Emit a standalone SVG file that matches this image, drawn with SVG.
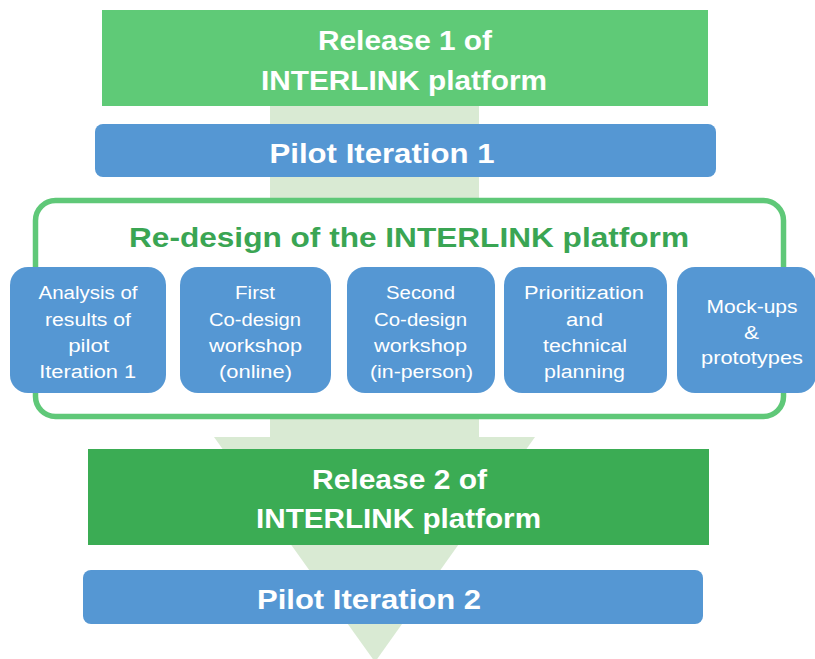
<svg xmlns="http://www.w3.org/2000/svg" width="815" height="659" viewBox="0 0 815 659">
<style>
.big{font-family:"Liberation Sans",Arial,sans-serif;font-weight:bold;font-size:27px;fill:#ffffff;text-anchor:middle}
.title{font-family:"Liberation Sans",Arial,sans-serif;font-weight:bold;font-size:28px;fill:#3aa553;text-anchor:middle}
.sm{font-family:"Liberation Sans",Arial,sans-serif;font-size:18px;fill:#ffffff;text-anchor:middle}
.blue{fill:#5597d3}
.step{fill:#5597d3}
</style>
<rect width="815" height="659" fill="#ffffff"/>
<g id="flow-arrow">
<rect x="270" y="10" width="209" height="428" fill="#d9ead3"/>
<polygon points="214,437 535,437 375,662" fill="#d9ead3"/>
</g>
<g id="release1">
<rect x="102" y="10" width="606" height="96" fill="#5fca77"/>
<text class="big" x="405" y="50" textLength="174" lengthAdjust="spacingAndGlyphs">Release 1 of</text>
<text class="big" x="404" y="90" textLength="286" lengthAdjust="spacingAndGlyphs">INTERLINK platform</text>
</g>
<g id="pilot1">
<rect class="blue" x="95" y="124" width="621" height="53" rx="8"/>
<text class="big" x="382" y="163" textLength="225" lengthAdjust="spacingAndGlyphs">Pilot Iteration 1</text>
</g>
<g id="redesign">
<rect x="35.5" y="200.5" width="748" height="216" rx="20" fill="#ffffff" stroke="#5fc878" stroke-width="5.5"/>
<text class="title" x="409" y="247" textLength="560" lengthAdjust="spacingAndGlyphs">Re-design of the INTERLINK platform</text>
</g>
<g id="step1">
<rect class="step" x="10" y="267" width="156" height="126" rx="18"/>
<text class="sm" x="88" y="299" textLength="99" lengthAdjust="spacingAndGlyphs">Analysis of</text>
<text class="sm" x="88" y="325.7" textLength="86" lengthAdjust="spacingAndGlyphs">results of</text>
<text class="sm" x="88.7" y="351.7" textLength="41" lengthAdjust="spacingAndGlyphs">pilot</text>
<text class="sm" x="87.7" y="377.7" textLength="97" lengthAdjust="spacingAndGlyphs">Iteration 1</text>
</g>
<g id="step2">
<rect class="step" x="180" y="267" width="151" height="126" rx="18"/>
<text class="sm" x="255" y="299" textLength="40" lengthAdjust="spacingAndGlyphs">First</text>
<text class="sm" x="255" y="325.7" textLength="92" lengthAdjust="spacingAndGlyphs">Co-design</text>
<text class="sm" x="255.5" y="351.7" textLength="93" lengthAdjust="spacingAndGlyphs">workshop</text>
<text class="sm" x="255.5" y="377.7" textLength="73" lengthAdjust="spacingAndGlyphs">(online)</text>
</g>
<g id="step3">
<rect class="step" x="347" y="267" width="148" height="126" rx="18"/>
<text class="sm" x="420.5" y="299" textLength="69" lengthAdjust="spacingAndGlyphs">Second</text>
<text class="sm" x="420.5" y="325.7" textLength="93" lengthAdjust="spacingAndGlyphs">Co-design</text>
<text class="sm" x="420.5" y="351.7" textLength="93" lengthAdjust="spacingAndGlyphs">workshop</text>
<text class="sm" x="421.5" y="377.7" textLength="103" lengthAdjust="spacingAndGlyphs">(in-person)</text>
</g>
<g id="step4">
<rect class="step" x="504" y="267" width="163" height="126" rx="18"/>
<text class="sm" x="584" y="299" textLength="120" lengthAdjust="spacingAndGlyphs">Prioritization</text>
<text class="sm" x="584.5" y="325.7" textLength="37" lengthAdjust="spacingAndGlyphs">and</text>
<text class="sm" x="585" y="351.7" textLength="84" lengthAdjust="spacingAndGlyphs">technical</text>
<text class="sm" x="584.5" y="377.7" textLength="81" lengthAdjust="spacingAndGlyphs">planning</text>
</g>
<g id="step5">
<rect class="step" x="677" y="267" width="139" height="126" rx="18"/>
<text class="sm" x="752" y="312.7" textLength="91" lengthAdjust="spacingAndGlyphs">Mock-ups</text>
<text class="sm" x="751.5" y="339" textLength="15" lengthAdjust="spacingAndGlyphs">&amp;</text>
<text class="sm" x="752" y="364.3" textLength="102" lengthAdjust="spacingAndGlyphs">prototypes</text>
</g>
<g id="release2">
<rect x="88" y="449" width="621" height="96" fill="#3bac54"/>
<text class="big" x="399.5" y="489" textLength="175" lengthAdjust="spacingAndGlyphs">Release 2 of</text>
<text class="big" x="398.5" y="528" textLength="285" lengthAdjust="spacingAndGlyphs">INTERLINK platform</text>
</g>
<g id="pilot2">
<rect class="blue" x="83" y="570" width="620" height="54" rx="8"/>
<text class="big" x="369" y="609" textLength="224" lengthAdjust="spacingAndGlyphs">Pilot Iteration 2</text>
</g>
<g id="connectors"></g>
</svg>
